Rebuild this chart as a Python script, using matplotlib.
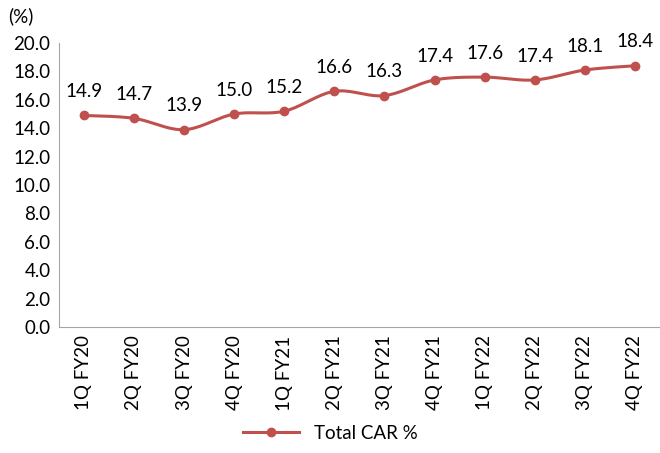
import numpy as np
import matplotlib
matplotlib.use("Agg")
import matplotlib.pyplot as plt

quarters = ["1Q FY20", "2Q FY20", "3Q FY20", "4Q FY20", "1Q FY21", "2Q FY21",
            "3Q FY21", "4Q FY21", "1Q FY22", "2Q FY22", "3Q FY22", "4Q FY22"]
car = [14.9, 14.7, 13.9, 15.0, 15.2, 16.6, 16.3, 17.4, 17.6, 17.4, 18.1, 18.4]

red = "#C0504D"
plt.rcParams['font.family'] = ['Lato', 'DejaVu Sans']
plt.rcParams['font.size'] = 13.5


def smooth(x, y, n=20):
    # Excel-like smoothed line (Catmull-Rom segments)
    x = np.asarray(x, float)
    y = np.asarray(y, float)
    px = np.concatenate([[x[0]], x, [x[-1]]])
    py = np.concatenate([[y[0]], y, [y[-1]]])
    xs, ys = [], []
    t = np.linspace(0, 1, n)
    for i in range(1, len(px) - 2):
        p0, p1, p2, p3 = py[i - 1], py[i], py[i + 1], py[i + 2]
        q0, q1, q2, q3 = px[i - 1], px[i], px[i + 1], px[i + 2]
        k = 1 / 6
        c1y, c2y = p1 + (p2 - p0) * k, p2 - (p3 - p1) * k
        c1x, c2x = q1 + (q2 - q0) * k, q2 - (q3 - q1) * k
        b = [(1 - t) ** 3, 3 * (1 - t) ** 2 * t, 3 * (1 - t) * t ** 2, t ** 3]
        xs.append(b[0] * q1 + b[1] * c1x + b[2] * c2x + b[3] * q2)
        ys.append(b[0] * p1 + b[1] * c1y + b[2] * c2y + b[3] * p2)
    return np.concatenate(xs), np.concatenate(ys)


fig = plt.figure(figsize=(6.6, 4.53), dpi=100)
ax = fig.add_axes([0.089, 0.278, 0.911, 0.627])

x = np.arange(len(quarters))
sx, sy = smooth(x, car)
ax.plot(sx, sy, color=red, lw=2.2, solid_capstyle='round')
ax.plot(x, car, 'o', color=red, ms=6)
ax.plot([], [], '-o', color=red, lw=2.2, ms=6, label="Total CAR %")

for xi, v in zip(x, car):
    ax.annotate(f"{v:.1f}", (xi, v), xytext=(0, 11), textcoords='offset points',
                ha='center', va='bottom')

ax.set_xlim(-0.5, len(quarters) - 0.5)
ax.set_ylim(0, 20)
ax.set_yticks(np.arange(0, 20.1, 2))
ax.set_yticklabels([f"{v:.1f}" for v in np.arange(0, 20.1, 2)])
ax.set_xticks(x)
ax.set_xticklabels(quarters, rotation=90)
ax.tick_params(length=0, pad=6)

for s in ['top', 'right']:
    ax.spines[s].set_visible(False)
for s in ['left', 'bottom']:
    ax.spines[s].set_color('#A6A6A6')

fig.text(0.012, 0.952, "(%)")
fig.legend(loc='lower center', bbox_to_anchor=(0.5, -0.012), frameon=False,
           handlelength=3)

fig.savefig("out.png", dpi=100)
